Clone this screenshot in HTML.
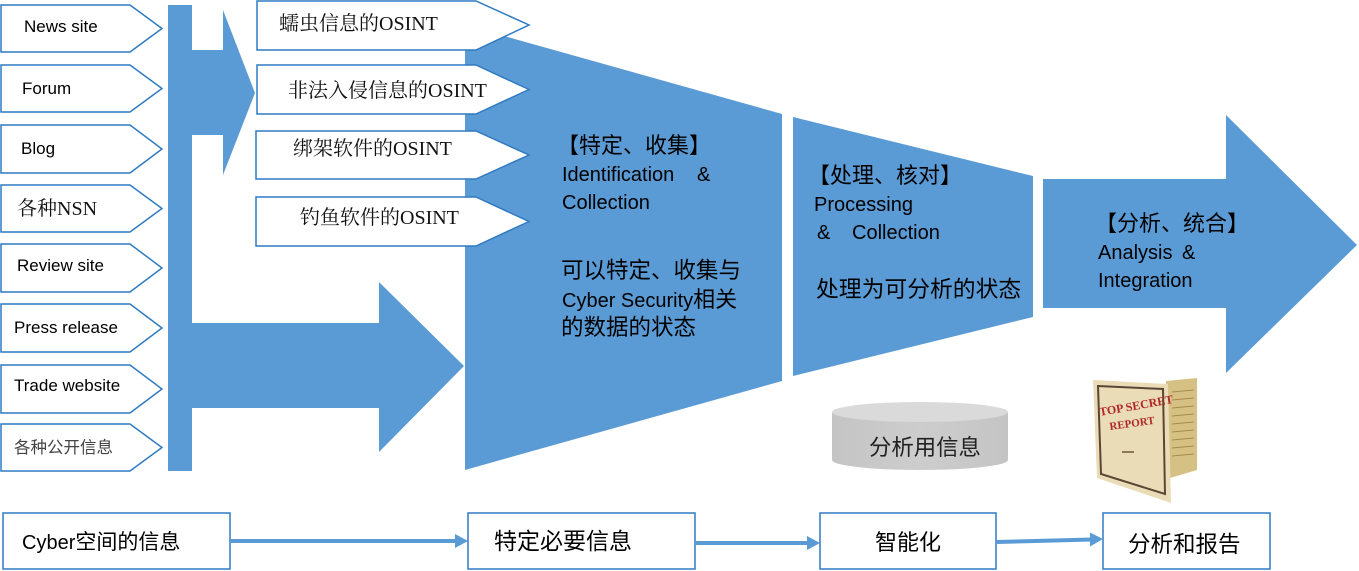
<!DOCTYPE html>
<html><head><meta charset="utf-8"><style>
html,body{margin:0;padding:0;background:#fff;}
svg{display:block;}
.s{font-family:"Liberation Sans","Noto Sans CJK SC",sans-serif;fill:#000;}
.sf{font-family:"Liberation Serif","Noto Serif CJK SC",serif;fill:#111;}
</style></head><body>
<svg width="1359" height="571" viewBox="0 0 1359 571" xmlns="http://www.w3.org/2000/svg">
<!-- vertical bar -->
<rect x="168" y="5" width="24" height="466" fill="#5b9bd5"/>
<!-- top small arrow -->
<polygon points="192,50 223,50 223,10 255,93 223,175 223,135 192,135" fill="#5b9bd5"/>
<!-- bottom big arrow -->
<polygon points="192,323 379,323 379,282 464,366 379,452 379,408 192,408" fill="#5b9bd5"/>
<!-- funnel 1 -->
<polygon points="465,25 782,114 782,381 465,470" fill="#5b9bd5"/>
<!-- funnel 2 -->
<polygon points="793,117 1033,176 1033,317 793,376" fill="#5b9bd5"/>
<!-- arrow 3 -->
<polygon points="1043,179 1226,179 1226,115 1357,245 1226,373 1226,308 1043,308" fill="#5b9bd5"/>

<!-- left pentagons -->
<g fill="#fff" stroke="#2f7ac2" stroke-width="1.5">
<polygon points="1,5 130,5 162,28.5 130,52 1,52"/>
<polygon points="1,65 130,65 162,88.5 130,112 1,112"/>
<polygon points="1,125 130,125 162,149 130,173 1,173"/>
<polygon points="1,185 130,185 162,208.5 130,232 1,232"/>
<polygon points="1,244 130,244 162,268 130,292 1,292"/>
<polygon points="1,304 130,304 162,328 130,352 1,352"/>
<polygon points="1,365 130,365 162,389 130,413 1,413"/>
<polygon points="1,424 130,424 162,447.5 130,471 1,471"/>
</g>
<g class="s" font-size="17">
<text x="24" y="32">News site</text>
<text x="22" y="94">Forum</text>
<text x="21" y="154">Blog</text>
<text x="17" y="271">Review site</text>
<text x="14" y="333">Press release</text>
<text x="14" y="391">Trade website</text>
</g>
<text class="sf" x="17" y="215" font-size="20">各种NSN</text>
<text class="s" x="14" y="453" font-size="16.5" style="fill:#444">各种公开信息</text>

<!-- OSINT pentagons -->
<g fill="#fff" stroke="#2f7ac2" stroke-width="1.5">
<polygon points="257,1 476,1 529,25 476,50 257,50"/>
<polygon points="257,65 476,65 529,89.5 476,114 257,114"/>
<polygon points="256,131 476,131 529,155 476,179 256,179"/>
<polygon points="256,197 476,197 529,221.5 476,246 256,246"/>
</g>
<g class="sf" font-size="20">
<text x="279" y="30">蠕虫信息的OSINT</text>
<text x="288" y="97">非法入侵信息的OSINT</text>
<text x="293" y="155">绑架软件的OSINT</text>
<text x="300" y="224">钓鱼软件的OSINT</text>
</g>

<!-- funnel 1 text -->
<g class="s">
<text x="557" y="153" font-size="22">【特定、收集】</text>
<text x="562" y="181" font-size="20">Identification</text>
<text x="697" y="181" font-size="20">&amp;</text>
<text x="562" y="209" font-size="20">Collection</text>
<text x="561" y="278" font-size="22.5">可以特定、收集与</text>
<text x="562" y="307" font-size="20">Cyber Security<tspan font-size="22">相关</tspan></text>
<text x="561" y="335" font-size="22.5">的数据的状态</text>
</g>
<!-- funnel 2 text -->
<g class="s">
<text x="808" y="183" font-size="22">【处理、核对】</text>
<text x="814" y="211" font-size="20">Processing</text>
<text x="817" y="239" font-size="20">&amp;</text>
<text x="852" y="239" font-size="20">Collection</text>
<text x="816" y="297" font-size="22.8">处理为可分析的状态</text>
</g>
<!-- arrow 3 text -->
<g class="s">
<text x="1095" y="231" font-size="22">【分析、统合】</text>
<text x="1098" y="259" font-size="20">Analysis</text>
<text x="1182" y="259" font-size="20">&amp;</text>
<text x="1098" y="287" font-size="20">Integration</text>
</g>

<!-- cylinder -->
<defs>
<linearGradient id="cyl" x1="0" x2="1" y1="0" y2="0">
<stop offset="0" stop-color="#c4c4c4"/>
<stop offset="0.5" stop-color="#cdcdcd"/>
<stop offset="1" stop-color="#c4c4c4"/>
</linearGradient>
</defs>
<path d="M832,412 L832,460 A88,10 0 0 0 1008,460 L1008,412 Z" fill="url(#cyl)"/>
<ellipse cx="920" cy="412" rx="88" ry="10" fill="#dadada"/>
<text class="s" x="869" y="455" font-size="22.4" style="fill:#222">分析用信息</text>

<!-- report folder -->
<g>
<polygon points="1166,381 1197,378 1197,470 1170,478" fill="#d6c185"/>
<g stroke="#a88b4a" stroke-width="1">
<line x1="1172" y1="392" x2="1194" y2="390"/>
<line x1="1172" y1="400" x2="1194" y2="398"/>
<line x1="1172" y1="408" x2="1194" y2="406"/>
<line x1="1172" y1="416" x2="1194" y2="414"/>
<line x1="1172" y1="424" x2="1194" y2="422"/>
<line x1="1172" y1="432" x2="1194" y2="430"/>
<line x1="1172" y1="440" x2="1194" y2="438"/>
<line x1="1172" y1="448" x2="1194" y2="446"/>
<line x1="1172" y1="456" x2="1194" y2="454"/>
</g>
<polygon points="1093,380 1168,384 1171,503 1097,478" fill="#e9dcb6"/>
<polygon points="1098,386 1163,389 1165,494 1101,474" fill="none" stroke="#5a4636" stroke-width="2"/>
<text x="1100" y="416" font-family="Liberation Serif,serif" font-weight="bold" font-size="12" fill="#b0282a" transform="rotate(-10 1100 416)">TOP SECRET</text>
<text x="1110" y="430" font-family="Liberation Serif,serif" font-weight="bold" font-size="11" fill="#b0282a" transform="rotate(-8 1110 430)">REPORT</text>
<rect x="1122" y="451" width="12" height="2" fill="#8a7a5a"/>
</g>

<!-- bottom boxes -->
<g fill="#fff" stroke="#2f7ac2" stroke-width="1.5">
<rect x="3" y="513" width="227" height="56"/>
<rect x="468" y="513" width="227" height="56"/>
<rect x="820" y="513" width="176" height="56"/>
<rect x="1103" y="513" width="167" height="56"/>
</g>
<g class="s">
<text x="22" y="549" font-size="20">Cyber<tspan font-size="21">空间的信息</tspan></text>
<text x="494" y="549" font-size="23">特定必要信息</text>
<text x="875" y="550" font-size="22">智能化</text>
<text x="1128" y="552" font-size="22.5">分析和报告</text>
</g>
<!-- bottom arrows -->
<g stroke="#5b9bd5" stroke-width="4">
<line x1="230" y1="541" x2="457" y2="541"/>
<line x1="695" y1="543" x2="809" y2="543"/>
<line x1="996" y1="542" x2="1092" y2="539.5"/>
</g>
<g fill="#5b9bd5">
<polygon points="455,534 468,541 455,548"/>
<polygon points="807,536 820,543 807,550"/>
<polygon points="1090,532.5 1103,539 1090,546.5"/>
</g>
</svg>
</body></html>
